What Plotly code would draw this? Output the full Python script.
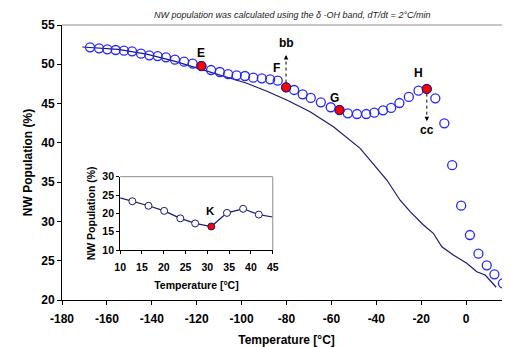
import plotly.graph_objects as go

# ---------------- data ----------------
# main series (open circles)
main_T = [-167.5, -163.5, -159.8, -156.1, -152.4, -148.8, -144.8, -141.1, -137.4, -133.7,
          -129.7, -125.6, -121.8, -117.9, -113.6, -109.7, -106.0, -102.2, -98.5, -94.8,
          -91.0, -87.3, -83.9, -80.2, -76.6, -72.8, -69.2, -64.7, -60.3, -56.4,
          -52.7, -48.6, -44.5, -40.9, -37.0, -33.4, -29.7, -25.5, -21.2, -17.5,
          -13.7, -9.7, -6.2, -2.2, 1.7, 5.5, 9.2, 12.6, 16.4, 19.6]
main_V = [52.16, 52.03, 51.90, 51.82, 51.73, 51.65, 51.35, 51.14, 51.05, 50.89,
          50.59, 50.33, 50.08, 49.78, 49.27, 49.02, 48.76, 48.59, 48.51, 48.29,
          48.21, 48.08, 47.91, 47.07, 46.73, 46.18, 45.72, 45.16, 44.53, 44.18,
          43.76, 43.67, 43.67, 43.84, 44.14, 44.44, 45.07, 45.84, 46.64, 46.86,
          45.67, 42.49, 37.16, 32.00, 28.27, 25.89, 24.41, 23.27, 22.12, 20.64]
# highlighted points (red) by label -> index into main series
highlight_labels = ["E", "F", "G", "H"]
highlight_idx = [13, 23, 29, 39]

# reference curve (solid line)
line_T = [-171.0, -155.0, -142.3, -130.0, -117.9, -108.0, -97.7, -89.0, -79.9, -69.5,
          -59.1, -47.2, -35.3, -29.4, -24.9, -19.0, -14.6, -10.8, -5.7, 0.3,
          4.8, 8.5, 13.4]
line_V = [52.2, 51.9, 51.3, 50.4, 49.36, 48.5, 47.58, 46.6, 45.45, 43.96,
          42.06, 39.3, 35.27, 32.7, 31.24, 29.55, 28.49, 26.78, 25.73, 24.67,
          23.6, 23.18, 21.62]

# inset series
inset_T = [10.0, 12.8, 16.5, 20.1, 23.8, 27.2, 30.9, 34.5, 38.2, 41.8, 45.0]
inset_V = [24.2, 23.3, 22.07, 20.68, 18.64, 17.25, 16.41, 20.12, 21.24, 19.67, 19.0]
inset_marker_idx = [1, 2, 3, 4, 5, 7, 8, 9]
inset_K_idx = 6

x_ticks = [-180, -160, -140, -120, -100, -80, -60, -40, -20, 0, 20]
x_ticktext = ["-180", "-160", "-140", "-120", "-100", "-80", "-60", "-40", "-20", "0", "20"]
y_ticks = [20, 25, 30, 35, 40, 45, 50, 55]
ix_ticks = [10, 15, 20, 25, 30, 35, 40, 45]
iy_ticks = [10, 15, 20, 25, 30]

subtitle = "NW population was calculated using the \u03b4 -OH band, dT/dt = 2\u00b0C/min"
x_title = "Temperature [\u00b0C]"
y_title = "NW Population (%)"

# ---------------- styles ----------------
FONT = "Liberation Sans, Arial, sans-serif"
BLUE = "#2626ff"
NAVY = "#1a1a7a"
RED = "#ff0000"

fig = go.Figure()

fig.add_trace(go.Scatter(x=line_T, y=line_V, mode="lines",
                         line=dict(color=NAVY, width=1.2), hoverinfo="skip",
                         showlegend=False))
fig.add_trace(go.Scatter(x=main_T, y=main_V, mode="markers",
                         marker=dict(symbol="circle-open", size=9,
                                     color=BLUE, line=dict(width=1.3, color=BLUE)),
                         showlegend=False))
fig.add_trace(go.Scatter(x=[main_T[i] for i in highlight_idx],
                         y=[main_V[i] for i in highlight_idx], mode="markers",
                         marker=dict(symbol="circle", size=9, color=RED,
                                     line=dict(width=1, color=NAVY)),
                         showlegend=False))

# inset
fig.add_trace(go.Scatter(x=inset_T, y=inset_V, mode="lines", xaxis="x2", yaxis="y2",
                         line=dict(color=NAVY, width=1.2), showlegend=False))
fig.add_trace(go.Scatter(x=[inset_T[i] for i in inset_marker_idx],
                         y=[inset_V[i] for i in inset_marker_idx],
                         mode="markers", xaxis="x2", yaxis="y2",
                         marker=dict(symbol="circle", size=7, color="white",
                                     line=dict(width=1, color=NAVY)),
                         showlegend=False))
fig.add_trace(go.Scatter(x=[inset_T[inset_K_idx]], y=[inset_V[inset_K_idx]],
                         mode="markers", xaxis="x2", yaxis="y2",
                         marker=dict(symbol="circle", size=7, color=RED,
                                     line=dict(width=1, color=NAVY)),
                         showlegend=False))

tickfont = dict(family=FONT, size=12, color="black", weight="bold")
itickfont = dict(family=FONT, size=10.5, color="black", weight="bold")

# the page body has an 8px margin, so the figure is laid out 8px up/left
fig.update_layout(
    width=510, height=347,
    margin=dict(l=54, r=7, t=17, b=55, autoexpand=False),
    paper_bgcolor="white", plot_bgcolor="white",
    xaxis=dict(range=[-180, 20], tickvals=x_ticks, ticktext=x_ticktext,
               showgrid=False, zeroline=False,
               showline=True, linecolor="black", linewidth=1,
               ticks="outside", ticklen=4, tickcolor="black", tickfont=tickfont,
               ticklabelstandoff=4,
               title=dict(text=x_title, font=tickfont, standoff=10)),
    yaxis=dict(range=[20, 55], tickvals=y_ticks, showgrid=False, zeroline=False,
               showline=True, linecolor="black", linewidth=1,
               ticks="outside", ticklen=4, tickcolor="black", tickfont=tickfont,
               title=dict(text=y_title, font=tickfont, standoff=6)),
    xaxis2=dict(domain=[0.1295, 0.4694], anchor="y2", range=[10, 45], tickvals=ix_ticks,
                showgrid=False, zeroline=False, showline=True, linecolor="black",
                linewidth=1, ticks="outside", ticklen=3, tickcolor="black",
                tickfont=itickfont, ticklabelstandoff=4,
                title=dict(text=x_title, font=itickfont, standoff=10)),
    yaxis2=dict(domain=[0.1818, 0.4484], anchor="x2", range=[10, 30], tickvals=iy_ticks,
                showgrid=False, zeroline=False, showline=True, linecolor="black",
                linewidth=1, ticks="outside", ticklen=3, tickcolor="black",
                tickfont=itickfont,
                title=dict(text=y_title, font=itickfont, standoff=4)),
)

# gray top border of main plot and top/right border of inset
fig.add_shape(type="line", xref="x domain", yref="y domain", x0=0, x1=1, y0=1, y1=1,
              line=dict(color="#8c8c8c", width=1))
fig.add_shape(type="line", xref="x2 domain", yref="y2 domain", x0=0, x1=1, y0=1, y1=1,
              line=dict(color="#8c8c8c", width=1))
fig.add_shape(type="line", xref="x2 domain", yref="y2 domain", x0=1, x1=1, y0=0, y1=1,
              line=dict(color="#8c8c8c", width=1))

# subtitle (as high as the page allows)
fig.add_annotation(text=subtitle, xref="paper", yref="paper", x=0.513, y=1.0618,
                   xanchor="center", yanchor="top", showarrow=False,
                   font=dict(family=FONT, size=9, color="#222222", style="italic"))

lblfont = dict(family=FONT, size=12, color="black", weight="bold")
# point labels (E F G H) positioned relative to their points
lbl_offsets = {"E": (0, 13), "F": (-10, 19), "G": (-5, 12), "H": (-8, 16)}
for lab, i in zip(highlight_labels, highlight_idx):
    dx, dy = lbl_offsets[lab]
    fig.add_annotation(text=lab, x=main_T[i], y=main_V[i], xshift=dx, yshift=dy,
                       showarrow=False, font=lblfont)

fig.add_annotation(text="K", x=inset_T[inset_K_idx], y=inset_V[inset_K_idx],
                   xshift=-1, yshift=16, xref="x2", yref="y2", showarrow=False,
                   font=dict(family=FONT, size=11.5, color="black", weight="bold"))

# dotted arrows: bb (up from F), cc (down from H)
iF, iH = highlight_idx[1], highlight_idx[3]
fig.add_shape(type="line", x0=main_T[iF], x1=main_T[iF], y0=main_V[iF] + 0.6,
              y1=main_V[iF] + 3.6, line=dict(color="black", width=1, dash="dot"))
fig.add_annotation(text="", x=main_T[iF], y=main_V[iF] + 4.1, ax=0, ay=4,
                   showarrow=True, arrowhead=2, arrowsize=0.9, arrowwidth=1,
                   arrowcolor="black")
fig.add_annotation(text="bb", x=main_T[iF], y=main_V[iF] + 4.1, yshift=12,
                   showarrow=False, font=lblfont)

fig.add_shape(type="line", x0=main_T[iH], x1=main_T[iH], y0=main_V[iH] - 0.6,
              y1=main_V[iH] - 3.6, line=dict(color="black", width=1, dash="dot"))
fig.add_annotation(text="", x=main_T[iH], y=main_V[iH] - 4.1, ax=0, ay=-4,
                   showarrow=True, arrowhead=2, arrowsize=0.9, arrowwidth=1,
                   arrowcolor="black")
fig.add_annotation(text="cc", x=main_T[iH], y=main_V[iH] - 4.1, yshift=-9,
                   showarrow=False, font=lblfont)

fig.write_html("out.html")
